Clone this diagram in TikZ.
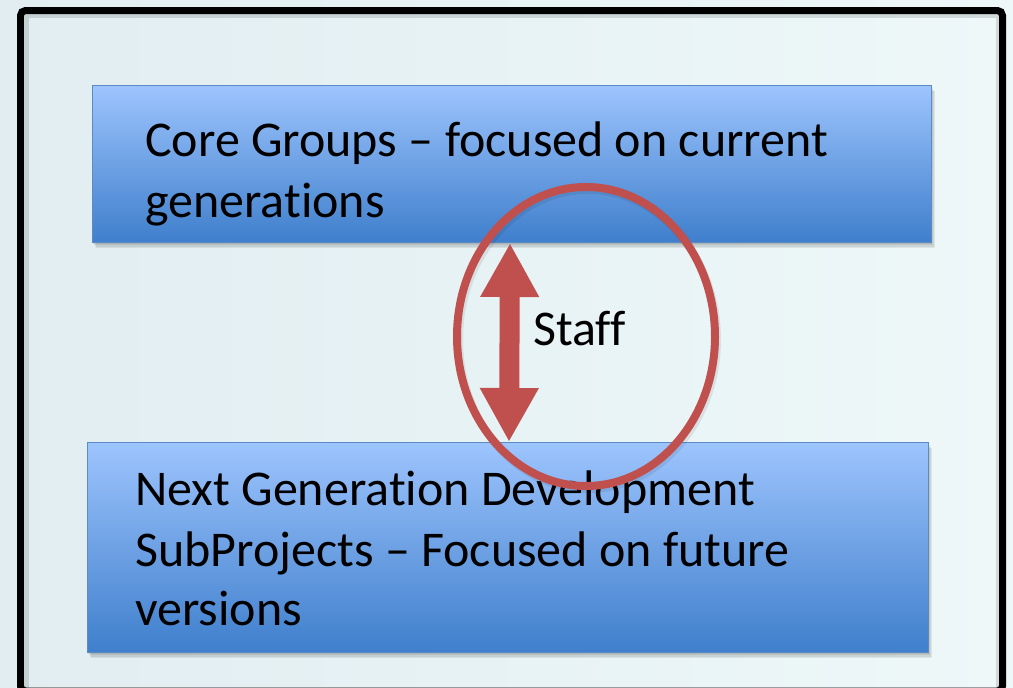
\documentclass[tikz,border=0pt]{standalone}
\usepackage{fontspec}
\setmainfont{Carlito}[Ligatures=NoCommon]
\usetikzlibrary{shapes.geometric,arrows.meta}
\definecolor{bgL}{HTML}{E1EDF1}
\definecolor{bgR}{HTML}{EEF8F9}
\definecolor{boxTop}{HTML}{9DC4FD}
\definecolor{boxBot}{HTML}{3F7FCC}
\definecolor{boxLine}{HTML}{5B8BC7}
\definecolor{redC}{HTML}{C0504D}
\tikzset{
  bluebox/.style={draw=boxLine, line width=1.2pt, rectangle, inner sep=0pt, top color=boxTop, bottom color=boxBot, anchor=north west},
  txt/.style={font=\fontsize{50}{60}\selectfont, inner sep=0pt, anchor=base west, text=black},
  softshadow/.style={fill=black, opacity=0.07}
}
\begin{document}
\begin{tikzpicture}[x=1pt,y=-1pt]
\useasboundingbox (0,0) rectangle (1013,688);
\shade[left color=bgL, right color=bgR] (0,0) rectangle (1013,688);
% frame shadow and frame
\draw[black, opacity=0.12, line width=4pt] (27,16) rectangle (998,690);
\draw[black, line width=7pt, rounded corners=5pt] (20.5,10.5) rectangle (1002.5,691);
% shadows
\foreach \d in {1,2,3,4}{
  \fill[softshadow] (92+\d,85+1.5*\d) rectangle (931+\d,242+1.5*\d);
  \fill[softshadow] (87+\d,442+1.5*\d) rectangle (928+\d,652+1.5*\d);
}
% boxes
\node[bluebox, minimum width=839pt, minimum height=157pt] (core) at (92,85) {};
\node[bluebox, minimum width=841pt, minimum height=210pt] (next) at (87,442) {};
% texts
\node[txt] (c1) at (145,156) {Core Groups – focused on current};
\node[txt] (c2) at (145,217) {generations};
\node[txt] (n1) at (135,505) {Next Generation Development};
\node[txt] (n2) at (135,566) {SubProjects – Focused on future};
\node[txt] (n3) at (135,625) {versions};
% arrow
\coordinate (atop) at (510,243);
\coordinate (abot) at (509,442);
\draw[redC, line width=20pt, {Triangle[length=54pt,width=55pt]}-{Triangle[length=54pt,width=55pt]}] (atop) -- (abot);
\node[txt] (staff) at (533,345) {Staff};
% ring
\node[ellipse, draw=black, opacity=0.08, line width=8pt, minimum width=258pt, minimum height=299pt, inner sep=0pt] (ringsh) at (588,339.5) {};
\node[ellipse, draw=redC, line width=8pt, minimum width=258pt, minimum height=299pt, inner sep=0pt] (ring) at (586,336.5) {};
\end{tikzpicture}
\end{document}
